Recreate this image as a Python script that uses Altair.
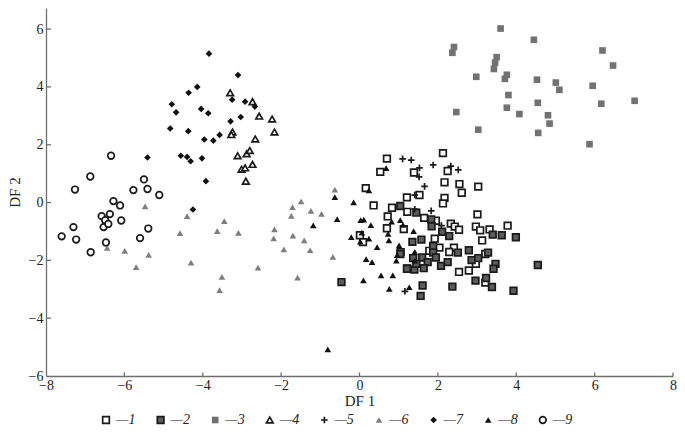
import altair as alt
import pandas as pd

# ---------------- data ----------------
s1_x = [0.70, 2.13, 0.53, 1.39, 2.25, 2.17, 2.55, 2.61, 3.03, 2.17, 2.13, 0.16, 1.21, 1.53, 0.36,
        0.83, 0.72, 1.22, 1.65, 3.01, 0.70, 1.13, 0.01, 0.09, 2.33, 2.43, 2.54, 2.97, 3.08, 3.32,
        3.78, 3.13, 1.92, 2.04, 2.41, 2.29, 3.21, 2.97, 2.79, 2.54, 3.21, 1.05, 1.78, 1.22, 1.95]
s1_y = [1.52, 1.71, 1.06, 1.04, 1.09, 0.70, 0.64, 0.34, 0.55, 0.16, -0.03, 0.50, 0.18, 0.26, -0.10,
        -0.18, -0.48, -0.32, -0.53, -0.41, -0.89, -0.92, -1.13, -1.37, -0.73, -0.83, -0.94, -0.83, -0.96, -0.93,
        -0.80, -1.31, -1.25, -1.56, -1.56, -1.71, -1.78, -2.12, -2.35, -2.40, -2.77, -1.72, -1.67, -2.28, -0.63]

s2_x = [1.04, 1.45, 1.83, 1.84, 2.11, 2.29, 1.35, 1.58, 1.88, 1.88, 1.04, 1.37, 1.60, 1.74, 1.95,
        2.08, 2.25, 1.21, 1.40, 1.64, 1.45, 2.51, 2.79, 3.28, 3.40, 3.63, 3.99, 2.86, 3.03, 3.47,
        3.42, 4.55, 2.96, 3.23, 3.38, 3.93, 2.37, 1.61, 1.56, -0.46]
s2_y = [-0.12, -0.35, -0.58, -0.82, -1.01, -1.16, -1.36, -1.28, -1.50, -1.73, -1.78, -1.92, -1.90, -2.06, -1.90,
        -2.19, -2.06, -2.29, -2.32, -2.27, -2.12, -1.73, -1.65, -1.73, -1.11, -1.13, -1.20, -1.99, -1.92, -2.12,
        -2.29, -2.16, -2.70, -2.61, -2.92, -3.05, -2.91, -2.87, -3.23, -2.75]

s3_x = [3.60, 4.45, 2.41, 2.37, 6.20, 3.50, 3.46, 3.43, 6.47, 2.98, 3.76, 3.71, 4.53, 5.01,
        5.10, 5.95, 3.80, 6.17, 7.02, 4.55, 2.47, 3.76, 4.08, 4.81, 4.85, 3.03, 4.56, 5.87]
s3_y = [6.02, 5.63, 5.38, 5.18, 5.26, 5.03, 4.84, 4.62, 4.74, 4.35, 4.42, 4.28, 4.25, 4.15,
        3.90, 4.04, 3.72, 3.42, 3.52, 3.45, 3.13, 3.28, 3.06, 3.02, 2.73, 2.52, 2.41, 2.02]

s4_x = [-3.30, -2.73, -2.56, -2.23, -2.17, -3.24, -3.27, -2.66, -3.11, -2.88, -2.80, -3.01, -2.92, -2.73, -2.90]
s4_y = [3.80, 3.49, 2.99, 2.89, 2.44, 2.44, 2.35, 2.20, 1.62, 1.69, 1.80, 1.15, 1.20, 1.32, 0.74]

s5_x = [1.10, 1.32, 1.88, 2.33, 2.52, 1.53, 1.52, 1.66, 1.41, 1.83, 1.41, 2.09, 1.16]
s5_y = [1.51, 1.47, 1.30, 1.26, 1.13, 1.20, 0.89, 0.56, 0.26, -0.29, -0.23, -0.80, -3.07]

s6_x = [-5.47, -4.40, -3.45, -4.58, -3.63, -6.44, -5.99, -5.38, -5.70, -4.30, -3.51, -3.57, -3.09, -2.59,
        -1.49, -1.71, -1.24, -0.97, -1.74, -0.63, -2.17, -2.19, -1.70, -1.41, -1.93, -1.26, -0.68, -1.58]
s6_y = [-0.13, -0.47, -0.64, -1.06, -0.99, -1.57, -1.67, -1.81, -2.23, -2.08, -2.57, -3.03, -1.05, -2.25,
        0.04, -0.16, -0.29, -0.39, -0.46, 0.45, -0.93, -1.24, -1.14, -1.31, -1.62, -1.65, -1.88, -2.60]

s7_x = [-3.84, -3.10, -4.14, -4.36, -4.79, -4.68, -4.04, -3.86, -3.25, -2.92, -2.67, -3.03, -3.29,
        -4.83, -4.37, -3.96, -3.73, -3.57, -4.56, -4.40, -4.31, -4.02, -3.92, -5.41, -4.25]
s7_y = [5.15, 4.41, 4.00, 3.80, 3.40, 3.12, 3.24, 3.09, 3.56, 3.49, 3.32, 2.96, 2.81,
        2.56, 2.47, 2.18, 2.14, 2.34, 1.62, 1.58, 1.43, 1.53, 0.74, 1.56, -0.24]

s8_x = [0.68, -0.63, 0.24, -0.15, -1.18, -0.57, 0.03, 0.11, 0.29, 0.82, 1.04, 1.11, 1.38, -0.21, 0.06,
        0.24, 0.02, 0.45, 0.73, 0.75, 1.01, 0.17, 0.32, 0.94, 0.96, 1.41, 1.41, 0.55, 0.85, 0.10,
        0.76, 1.27, -0.81]
s8_y = [1.19, 0.19, 0.42, 0.01, -0.79, -0.57, -0.61, -0.59, -0.78, -0.66, -0.61, -0.77, -0.99, -1.20, -1.04,
        -1.25, -1.35, -1.54, -1.08, -1.31, -1.48, -1.96, -2.06, -2.01, -1.82, -1.71, -2.01, -2.52, -2.52, -2.69,
        -2.99, -2.93, -5.08]

s9_x = [-6.34, -6.87, -7.26, -5.50, -5.77, -5.41, -5.11, -6.28, -6.11, -6.58, -6.37,
        -6.49, -6.53, -6.41, -6.08, -7.30, -7.60, -7.23, -5.39, -5.60, -6.47, -6.86]
s9_y = [1.62, 0.90, 0.45, 0.80, 0.43, 0.47, 0.26, 0.05, -0.10, -0.47, -0.40,
        -0.61, -0.85, -0.74, -0.62, -0.85, -1.17, -1.28, -0.90, -1.23, -1.38, -1.72]

series_names = ["1", "2", "3", "4", "5", "6", "7", "8", "9"]
x_ticks = [-8, -6, -4, -2, 0, 2, 4, 6, 8]
y_ticks = [-6, -4, -2, 0, 2, 4, 6]

# ---------------- styles ----------------
shapes = ["square", "square", "square", "triangle-up", "M-1,0L1,0M0,-1L0,1",
          "triangle-up", "diamond", "triangle-up", "circle"]
fills = ["white", "#5c5c5c", "#727272", "white", "transparent",
         "#7e7e7e", "#111111", "#111111", "white"]
strokes = ["#1a1a1a", "#1a1a1a", "transparent", "#1a1a1a", "#1a1a1a",
           "transparent", "transparent", "transparent", "#1a1a1a"]
sizes = [44, 44, 78, 60, 85, 105, 90, 105, 36]

all_x = [s1_x, s2_x, s3_x, s4_x, s5_x, s6_x, s7_x, s8_x, s9_x]
all_y = [s1_y, s2_y, s3_y, s4_y, s5_y, s6_y, s7_y, s8_y, s9_y]
rows = []
for name, xs, ys in zip(series_names, all_x, all_y):
    for xv, yv in zip(xs, ys):
        rows.append({"x": xv, "y": yv, "series": name})
df = pd.DataFrame(rows)

FONT = "Liberation Serif"
AX = "#6e6e6e"
W, H = 627, 368

xscale = alt.Scale(domain=[-8, 8], nice=False, zero=False)
yscale = alt.Scale(domain=[-6, 6.73], nice=False, zero=False)

xaxis = alt.Axis(values=x_ticks, title="DF 1", ticks=False, grid=False, domainColor=AX, domainWidth=1.3,
                 labelFont=FONT, labelFontSize=14, labelColor="#222222", labelPadding=2, labelFlush=False,
                 titleFont=FONT, titleFontSize=15, titleFontWeight="normal", titleColor="#222222",
                 titlePadding=1)
yaxis = alt.Axis(values=y_ticks, title="DF 2", ticks=False, grid=False, domainColor=AX, domainWidth=1.3,
                 labelFont=FONT, labelFontSize=14, labelColor="#222222", labelPadding=3, labelFlush=False,
                 titleFont=FONT, titleFontSize=15, titleFontWeight="normal", titleColor="#222222",
                 titlePadding=6)

legend = alt.Legend(orient="none", legendX=53, legendY=405, direction="horizontal", columns=9,
                    title=None, labelExpr="'\u2014' + datum.label", labelFont=FONT, labelFontSize=14,
                    labelFontStyle="italic", labelColor="#222222", columnPadding=17.6, labelOffset=3,
                    padding=0, symbolStrokeWidth=1.7)

points = alt.Chart(df).mark_point(filled=True, opacity=1, strokeWidth=1.7).encode(
    x=alt.X("x:Q", scale=xscale, axis=xaxis),
    y=alt.Y("y:Q", scale=yscale, axis=yaxis),
    shape=alt.Shape("series:N", scale=alt.Scale(domain=series_names, range=shapes), legend=legend),
    fill=alt.Fill("series:N", scale=alt.Scale(domain=series_names, range=fills), legend=legend),
    stroke=alt.Stroke("series:N", scale=alt.Scale(domain=series_names, range=strokes), legend=legend),
    size=alt.Size("series:N", scale=alt.Scale(domain=series_names, range=sizes), legend=legend),
)

xt = pd.DataFrame({"x": x_ticks[1:]})
yt = pd.DataFrame({"y": y_ticks[1:]})
tick_x = alt.Chart(xt).mark_rule(color=AX, strokeWidth=1.3).encode(
    x=alt.X("x:Q", scale=xscale), y=alt.value(H), y2=alt.value(H - 3.5))
tick_y = alt.Chart(yt).mark_rule(color=AX, strokeWidth=1.3).encode(
    y=alt.Y("y:Q", scale=yscale), x=alt.value(0), x2=alt.value(5))

chart = alt.layer(tick_x, tick_y, points).properties(
    width=W, height=H,
    autosize=alt.AutoSizeParams(type="none"),
    padding={"left": 38, "top": 0, "right": 4, "bottom": 52},
    background="white",
).configure_view(strokeWidth=0)

chart.save("out.html", embed_options={"renderer": "svg", "actions": False})
